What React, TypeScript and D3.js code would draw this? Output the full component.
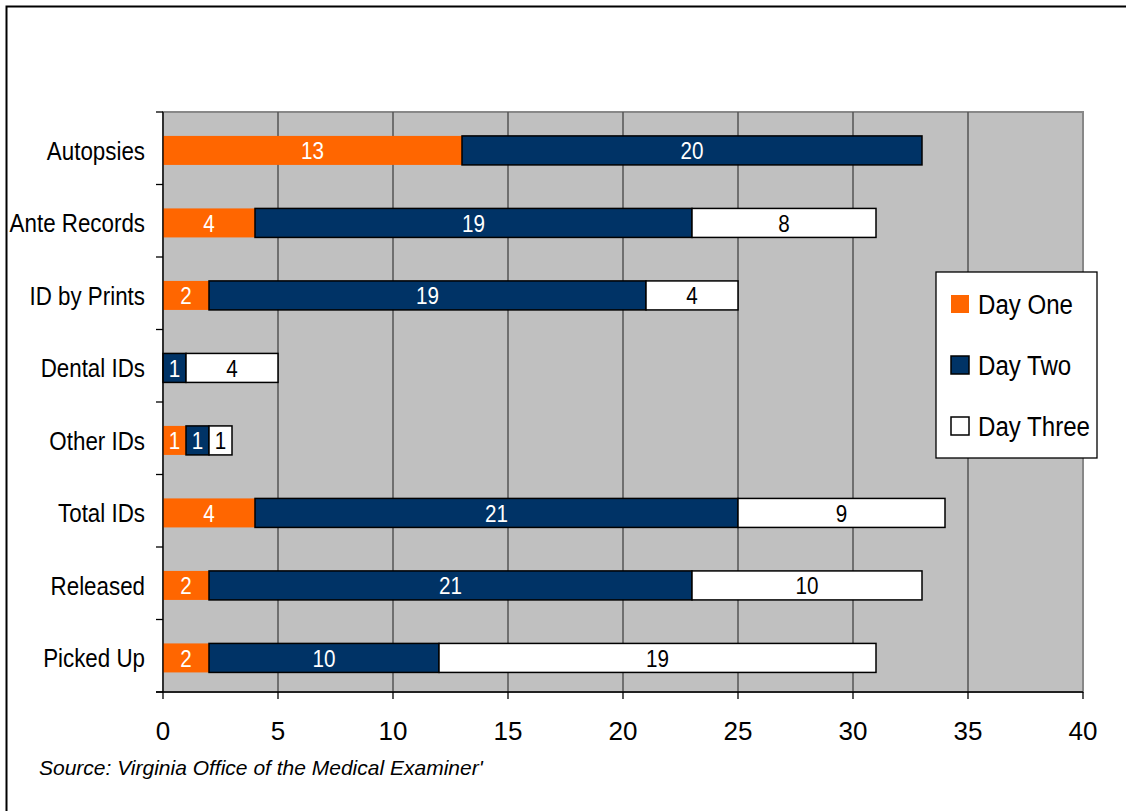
import React from 'react';
import * as d3 from 'd3';

const categories = ['Autopsies', 'Ante Records', 'ID by Prints', 'Dental IDs', 'Other IDs', 'Total IDs', 'Released', 'Picked Up'];
const dayOne = [13, 4, 2, 0, 1, 4, 2, 2];
const dayTwo = [20, 19, 19, 1, 1, 21, 21, 10];
const dayThree = [0, 8, 4, 4, 1, 9, 10, 19];
const seriesNames = ['Day One', 'Day Two', 'Day Three'];
const xTicks = [0, 5, 10, 15, 20, 25, 30, 35, 40];

const colors = ['#ff6600', '#003366', '#ffffff'];
const labelColors = ['#ffffff', '#ffffff', '#000000'];
const SANS = '"Liberation Sans", Arial, sans-serif';
// no narrow face installed, so squeeze Liberation Sans horizontally
const NARROW_X = 0.86;

const App: React.FC = () => {
  const svgRef = React.useRef<SVGSVGElement>(null);

  React.useEffect(() => {
    if (!svgRef.current) return;
    const svg = d3.select(svgRef.current);
    svg.selectAll('*').remove();

    const left = 163, right = 1083, top = 112, bottom = 692;

    const narrowText = (g: d3.Selection<any, any, any, any>, x: number, y: number, size: number, anchor: string, fill: string, txt: string | number) =>
      g.append('text')
        .attr('transform', `translate(${x},${y}) scale(${NARROW_X},1)`)
        .attr('dy', '0.36em')
        .attr('text-anchor', anchor)
        .style('font-family', SANS)
        .style('font-size', `${size}px`)
        .attr('fill', fill)
        .text(txt);

    svg.append('rect').attr('width', 1126).attr('height', 811).attr('fill', '#fff');
    // outer frame (right and bottom edges fall outside the picture)
    svg.append('rect')
      .attr('x', 6.5).attr('y', 6.5).attr('width', 1130).attr('height', 820)
      .attr('fill', 'none').attr('stroke', '#000').attr('stroke-width', 2);

    const x = d3.scaleLinear().domain([0, 40]).range([left, right]);
    const y = d3.scaleBand().domain(categories).range([top, bottom]).paddingInner(0.6).paddingOuter(0.3).align(0.55);

    // plot area
    svg.append('rect')
      .attr('x', left).attr('y', top).attr('width', right - left).attr('height', bottom - top)
      .attr('fill', '#c0c0c0').attr('stroke', '#888').attr('stroke-width', 2);

    // grid
    svg.append('g').selectAll('line')
      .data(xTicks.filter(t => t > 0 && t < 40))
      .join('line')
      .attr('x1', d => x(d)).attr('x2', d => x(d))
      .attr('y1', top).attr('y2', bottom)
      .attr('stroke', '#555').attr('stroke-width', 1.5);

    // stacked bars
    const stackData = categories.map((c, i) => ({ cat: c, vals: [dayOne[i], dayTwo[i], dayThree[i]] }));
    const bars = svg.append('g');
    stackData.forEach(d => {
      let acc = 0;
      d.vals.forEach((v, s) => {
        if (v <= 0) return;
        const x0 = x(acc), x1 = x(acc + v);
        const yy = y(d.cat)!;
        bars.append('rect')
          .attr('x', x0).attr('y', yy)
          .attr('width', x1 - x0).attr('height', y.bandwidth())
          .attr('fill', colors[s])
          .attr('stroke', s === 0 ? 'none' : '#000')
          .attr('stroke-width', 1.5);
        narrowText(bars, (x0 + x1) / 2, yy + y.bandwidth() / 2, 24, 'middle', labelColors[s], v);
        acc += v;
      });
    });

    // axis lines
    svg.append('line').attr('x1', left).attr('x2', left).attr('y1', top).attr('y2', bottom)
      .attr('stroke', '#000').attr('stroke-width', 1.3);
    svg.append('line').attr('x1', left - 7).attr('x2', right).attr('y1', bottom).attr('y2', bottom)
      .attr('stroke', '#000').attr('stroke-width', 1.3);

    // y ticks at category boundaries
    const step = (bottom - top) / categories.length;
    svg.append('g').selectAll('line')
      .data(d3.range(categories.length + 1))
      .join('line')
      .attr('x1', left - 7).attr('x2', left)
      .attr('y1', i => top + i * step).attr('y2', i => top + i * step)
      .attr('stroke', '#000').attr('stroke-width', 1.3);

    // x ticks
    svg.append('g').selectAll('line')
      .data(xTicks)
      .join('line')
      .attr('x1', d => x(d)).attr('x2', d => x(d))
      .attr('y1', bottom).attr('y2', bottom + 7)
      .attr('stroke', '#000').attr('stroke-width', 1.3);

    svg.append('g').selectAll('text')
      .data(xTicks)
      .join('text')
      .attr('x', d => x(d)).attr('y', bottom + 48)
      .attr('text-anchor', 'middle')
      .style('font-family', SANS).style('font-size', '26px')
      .attr('fill', '#000')
      .text(d => d);

    // category labels
    const catG = svg.append('g');
    categories.forEach(c => {
      narrowText(catG, left - 18, y(c)! + y.bandwidth() / 2, 26, 'end', '#000', c);
    });

    // legend
    const lg = svg.append('g').attr('transform', 'translate(936,272)');
    lg.append('rect').attr('width', 161).attr('height', 186)
      .attr('fill', '#fff').attr('stroke', '#000').attr('stroke-width', 1.3);
    seriesNames.forEach((name, i) => {
      const cy = 32 + i * 61;
      lg.append('rect')
        .attr('x', 15).attr('y', cy - 9).attr('width', 18).attr('height', 18)
        .attr('fill', colors[i])
        .attr('stroke', i === 0 ? 'none' : '#000').attr('stroke-width', 1.5);
      narrowText(lg, 42, cy, 28, 'start', '#000', name);
    });

    // source note
    svg.append('text')
      .attr('x', 39).attr('y', 775)
      .style('font-family', SANS).style('font-size', '21px').style('font-style', 'italic')
      .attr('fill', '#000')
      .text("Source: Virginia Office of the Medical Examiner'");
  }, []);

  return (
    <svg ref={svgRef} width={1126} height={811} viewBox="0 0 1126 811"
      style={{ position: 'absolute', left: 0, top: 0, display: 'block' }} />
  );
};

export default App;
